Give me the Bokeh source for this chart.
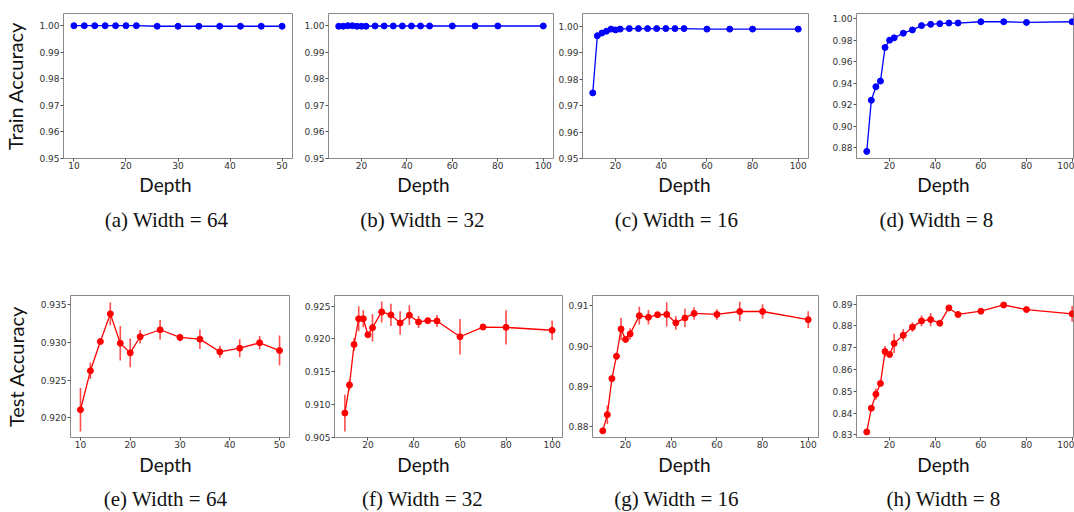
from bokeh.plotting import figure
from bokeh.models import Range1d, FixedTicker, PrintfTickFormatter, ColumnDataSource
from bokeh.core.properties import value
from bokeh.layouts import row, column
from bokeh.embed import file_html
from bokeh.resources import INLINE

# ---------------- data ----------------
depth_64 = [10, 12, 14, 16, 18, 20, 22, 26, 30, 34, 38, 42, 46, 50]
depth_all = [10, 12, 14, 16, 18, 20, 22, 26, 30, 34, 38, 42, 46, 50, 60, 70, 80, 100]

train_w64 = [1.0000, 1.0000, 1.0000, 1.0000, 1.0000, 1.0000, 1.0000,
             0.9998, 0.9998, 0.9998, 0.9998, 0.9998, 0.9998, 0.9998]
train_w32 = [0.9998, 0.9998, 1.0000, 1.0000, 0.9998, 0.9998, 0.9998, 0.9999, 0.9999,
             0.9999, 0.9999, 0.9999, 0.9999, 0.9999, 0.9999, 0.9999, 0.9999, 0.9999]
train_w16 = [0.9748, 0.9964, 0.9974, 0.9981, 0.9989, 0.9986, 0.9989, 0.9991, 0.9991,
             0.9991, 0.9991, 0.9991, 0.9991, 0.9991, 0.9989, 0.9989, 0.9989, 0.9989]
train_w8 = [0.8763, 0.9240, 0.9366, 0.9419, 0.9732, 0.9800, 0.9822, 0.9865, 0.9896,
            0.9936, 0.9948, 0.9954, 0.9960, 0.9960, 0.9972, 0.9972, 0.9966, 0.9972]

test_w64 = [0.92107, 0.92624, 0.93013, 0.93380, 0.92990, 0.92862, 0.93076, 0.93169,
            0.93067, 0.93044, 0.92876, 0.92924, 0.92996, 0.92893]
err_w64 = [0.0029, 0.0011, 0.0003, 0.0015, 0.0023, 0.0019, 0.0009, 0.0013,
           0.0005, 0.0013, 0.0008, 0.0012, 0.0009, 0.0020]
test_w32 = [0.90872, 0.91300, 0.91916, 0.92308, 0.92308, 0.92064, 0.92172, 0.92412, 0.92367,
            0.92244, 0.92362, 0.92259, 0.92279, 0.92274, 0.92034, 0.92182, 0.92177, 0.92133]
err_w32 = [0.0028, 0.0008, 0.0010, 0.0019, 0.0013, 0.0003, 0.0021, 0.0016, 0.0017,
           0.0018, 0.0015, 0.0009, 0.0003, 0.0009, 0.0027, 0.0005, 0.0026, 0.0015]
test_w16 = [0.87895, 0.88298, 0.89194, 0.89750, 0.90427, 0.90169, 0.90306, 0.90758, 0.90718,
            0.90782, 0.90790, 0.90581, 0.90702, 0.90815, 0.90789, 0.90862, 0.90862, 0.90659]
err_w16 = [0.0003, 0.0023, 0.0003, 0.0008, 0.0028, 0.0008, 0.0014, 0.0022, 0.0018,
           0.0003, 0.0030, 0.0017, 0.0023, 0.0015, 0.0013, 0.0024, 0.0018, 0.0021]
test_w8 = [0.83135, 0.84225, 0.84865, 0.85359, 0.86820, 0.86686, 0.87195, 0.87569, 0.87940,
           0.88225, 0.88284, 0.88120, 0.88820, 0.88520, 0.88670, 0.88955, 0.88745, 0.88550]
err_w8 = [0.0004, 0.0005, 0.0026, 0.0005, 0.0025, 0.0005, 0.0044, 0.0028, 0.0021,
          0.0025, 0.0030, 0.0006, 0.0005, 0.0005, 0.0005, 0.0005, 0.0005, 0.0036]

captions_top = ["(a) Width = 64", "(b) Width = 32", "(c) Width = 16", "(d) Width = 8"]
captions_bottom = ["(e) Width = 64", "(f) Width = 32", "(g) Width = 16", "(h) Width = 8"]
x_label = "Depth"
train_label = "Train Accuracy"
test_label = "Test Accuracy"

ticks_x_50 = [10, 20, 30, 40, 50]
ticks_x_100 = [20, 40, 60, 80, 100]
ticks_train = [0.95, 0.96, 0.97, 0.98, 0.99, 1.00]
ticks_train8 = [0.88, 0.90, 0.92, 0.94, 0.96, 0.98, 1.00]
ticks_test64 = [0.920, 0.925, 0.930, 0.935]
ticks_test32 = [0.905, 0.910, 0.915, 0.920, 0.925]
ticks_test16 = [0.88, 0.89, 0.90, 0.91]
ticks_test8 = [0.83, 0.84, 0.85, 0.86, 0.87, 0.88, 0.89]

# ---------------- style / layout ----------------
BLUE = "#0000ff"
RED = "#ff0000"
LABEL_FONT = "Lato"
CAP_FONT = "Liberation Serif"
TICK_FONT = "DejaVu Sans"
TEXT_COLOR = "#111111"
PAGE_W = 1074


def make_panel(col, rowbox, frame, xr, yr, xt, yt, yfmt, xs, ys, errs, color, ylab=None):
    cl, cr = col
    rt, rh = rowbox
    L, R, T, B = frame
    p = figure(width=cr - cl, height=rh, output_backend="svg", toolbar_location=None,
               title=None, x_range=Range1d(*xr), y_range=Range1d(*yr),
               min_border_left=L - cl, min_border_right=cr - R,
               min_border_top=T - rt, min_border_bottom=rt + rh - B)
    p.xgrid.visible = False
    p.ygrid.visible = False
    p.outline_line_color = "#8a8a8a"
    p.outline_line_width = 1
    p.background_fill_color = "white"
    p.border_fill_color = "white"
    for ax in (p.xaxis[0], p.yaxis[0]):
        ax.axis_line_color = None
        ax.major_tick_in = 0
        ax.major_tick_out = 3
        ax.major_tick_line_color = "#555555"
        ax.minor_tick_line_color = None
        ax.major_label_text_font = TICK_FONT
        ax.major_label_text_font_size = "9px"
        ax.major_label_text_color = "#333333"
    p.xaxis[0].major_label_standoff = 0
    p.yaxis[0].major_label_standoff = 1
    p.xaxis[0].ticker = FixedTicker(ticks=xt)
    p.yaxis[0].ticker = FixedTicker(ticks=yt)
    p.yaxis[0].formatter = PrintfTickFormatter(format=yfmt)
    if ylab is not None:
        txt, standoff = ylab
        p.yaxis[0].axis_label = txt
        p.yaxis[0].axis_label_text_font = LABEL_FONT
        p.yaxis[0].axis_label_text_font_size = "20px"
        p.yaxis[0].axis_label_text_font_style = "normal"
        p.yaxis[0].axis_label_text_color = TEXT_COLOR
        p.yaxis[0].axis_label_standoff = standoff

    src = ColumnDataSource(dict(x=xs, y=ys))
    if errs is not None:
        lo = [v - e for v, e in zip(ys, errs)]
        hi = [v + e for v, e in zip(ys, errs)]
        esrc = ColumnDataSource(dict(x=xs, lo=lo, hi=hi))
        p.segment(x0="x", y0="lo", x1="x", y1="hi", source=esrc,
                  line_color=color, line_width=1.6, line_alpha=0.7)
    p.line("x", "y", source=src, line_color=color, line_width=1.3)
    p.scatter("x", "y", source=src, size=6, fill_color=color, line_color=color)
    return p


def make_strip(height, depth_xs, depth_base, cap_xs, cap_base, captions):
    s = figure(width=PAGE_W, height=height, output_backend="svg", toolbar_location=None,
               title=None, x_range=Range1d(0, PAGE_W), y_range=Range1d(height, 0),
               x_axis_type=None, y_axis_type=None, min_border=0)
    s.outline_line_color = None
    s.background_fill_color = "white"
    s.border_fill_color = "white"
    dsrc = ColumnDataSource(dict(x=depth_xs, y=[depth_base] * len(depth_xs),
                                 t=[x_label] * len(depth_xs)))
    s.text(x="x", y="y", text="t", source=dsrc, text_font=value(LABEL_FONT),
           text_font_size=value("19px"), text_align="center", text_baseline="alphabetic",
           text_color=TEXT_COLOR)
    csrc = ColumnDataSource(dict(x=cap_xs, y=[cap_base] * len(cap_xs), t=captions))
    s.text(x="x", y="y", text="t", source=csrc, text_font=value(CAP_FONT),
           text_font_size=value("21px"), text_align="center", text_baseline="alphabetic",
           text_color=TEXT_COLOR)
    return s


R1 = (0, 172)
R2 = (288, 164)

pa = make_panel((0, 300), R1, (63, 292, 12, 158), (8, 52), (0.95, 1.0046), ticks_x_50,
                ticks_train, "%.2f", depth_64, train_w64, None, BLUE, (train_label, 9))
pb = make_panel((300, 555), R1, (328, 553, 12, 158), (5.5, 104.5), (0.95, 1.0046), ticks_x_100,
                ticks_train, "%.2f", depth_all, train_w32, None, BLUE)
pc = make_panel((555, 818), R1, (582, 808, 12, 158), (5.5, 104.5), (0.95, 1.0048), ticks_x_100,
                ticks_train, "%.2f", depth_all, train_w16, None, BLUE)
pd_ = make_panel((818, 1074), R1, (856, 1073, 13, 158), (5.5, 100.6), (0.8697, 1.0049), ticks_x_100,
                 ticks_train8, "%.2f", depth_all, train_w8, None, BLUE)

pe = make_panel((0, 298), R2, (70, 289, 295, 437), (8, 52), (0.91738, 0.93624), ticks_x_50,
                ticks_test64, "%.3f", depth_64, test_w64, err_w64, RED, (test_label, 10))
pf = make_panel((298, 565), R2, (334, 562, 293, 438), (5.5, 104.5), (0.905, 0.92662), ticks_x_100,
                ticks_test32, "%.3f", depth_all, test_w32, err_w32, RED)
pg = make_panel((565, 826), R2, (592, 818, 293, 438), (5.5, 104.5), (0.8773, 0.9126), ticks_x_100,
                ticks_test16, "%.2f", depth_all, test_w16, err_w16, RED)
ph = make_panel((826, 1074), R2, (856, 1073, 293, 438), (5.5, 100.6), (0.8288, 0.8939), ticks_x_100,
                ticks_test8, "%.2f", depth_all, test_w8, err_w8, RED)

strip_top = make_strip(116, [165, 423, 684, 943], 12, [166, 422, 676, 936], 47, captions_top)
strip_bottom = make_strip(60, [165, 423, 684, 943], 12, [165, 422, 676, 943], 46, captions_bottom)

layout = column(row(pa, pb, pc, pd_, spacing=0), strip_top,
                row(pe, pf, pg, ph, spacing=0), strip_bottom, spacing=0)

open("out.html", "w").write(file_html(layout, INLINE))
